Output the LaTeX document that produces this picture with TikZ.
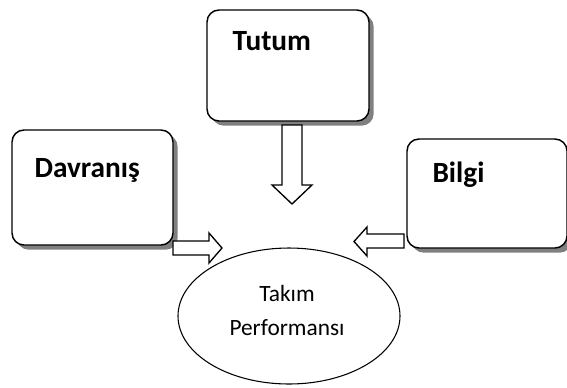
\documentclass[tikz,border=0pt]{standalone}
\usepackage{fontspec}
\setmainfont{Carlito}
\usetikzlibrary{calc,positioning,shapes.geometric,shadows}

\begin{document}
\begin{tikzpicture}[x=0.75pt,y=-0.75pt,
    factor/.style={draw,line width=1.1pt,rounded corners=9pt,fill=white,
      drop shadow={shadow xshift=3.5pt,shadow yshift=-3.5pt,fill=black!50,opacity=1}},
    factorlabel/.style={anchor=base west,inner sep=0pt,
      font=\fontsize{22}{26}\selectfont\bfseries},
    blockarrow/.style={draw,line width=1pt,fill=white,line join=miter}]
  \useasboundingbox (0,0) rectangle (567,387);
  % the three factors
  \node[factor,minimum width=121.5pt,minimum height=83.25pt] (tutum) at (288,65.5) {};
  \node[factor,minimum width=120.75pt,minimum height=86.25pt] (davranis) at (92.5,187.5) {};
  \node[factor,minimum width=120pt,minimum height=81.75pt] (bilgi) at (487,193.5) {};
  \node[factorlabel] (tutumtext) at ($(tutum.north west)+(26,41)$) {Tutum};
  \node[factorlabel] (davranistext) at ($(davranis.north west)+(23,48)$) {Davranış};
  \node[factorlabel] (bilgitext) at ($(bilgi.north west)+(26,44)$) {Bilgi};
  % team performance
  \node[draw,ellipse,line width=0.8pt,minimum width=166.5pt,minimum height=102pt,
    inner sep=0pt] (perf) at (289,316) {};
  \node[align=center,font=\fontsize{17.5}{25.5}\selectfont] (perftext) at (287,310)
    {Takım\\Performansı};
  % block arrows
  \draw[blockarrow] (282,125) -- (302,125) -- (302,185) -- (312,185) -- (292,204)
    -- (272,185) -- (282,185) -- cycle;
  \draw[blockarrow] (173,241) -- (209,241) -- (209,233) -- (222,248) -- (209,263)
    -- (209,255) -- (173,255) -- cycle;
  \draw[blockarrow] (404,234) -- (367,234) -- (367,227) -- (354,241.5) -- (367,256)
    -- (367,248) -- (404,248) -- cycle;
\end{tikzpicture}
\end{document}
